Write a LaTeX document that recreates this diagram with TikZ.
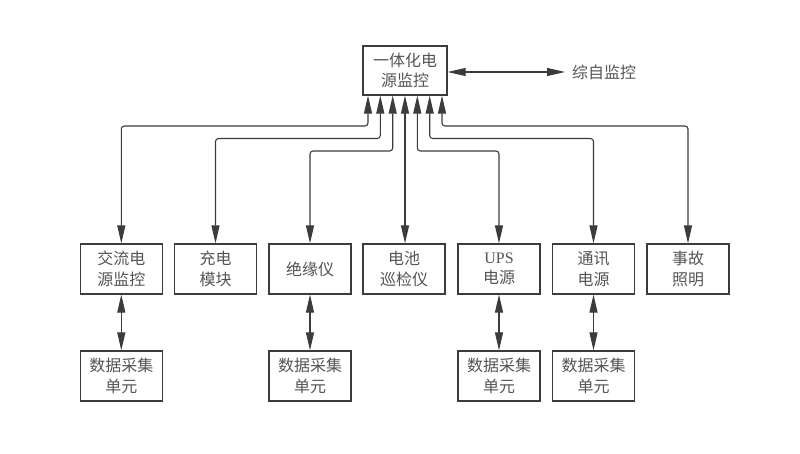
\documentclass[tikz,border=0pt]{standalone}
\usepackage{fontspec}
\setmainfont{Noto Sans CJK SC}
\newfontfamily\latserif{Liberation Serif}
\usetikzlibrary{arrows.meta}
\definecolor{linec}{HTML}{3C3C3C}
\definecolor{textc}{HTML}{555555}
\tikzset{
  blk/.style={draw=linec, line width=1.2pt, minimum width=82pt, minimum height=50pt,
    inner sep=0pt, align=center, text=textc, font=\fontsize{16}{20.5}\selectfont},
  conn/.style={draw=linec, line width=1.1pt, rounded corners=3pt,
    {Triangle[width=8pt,length=18pt]}-{Triangle[width=8pt,length=18pt]}},
}
\begin{document}
\begin{tikzpicture}[x=1pt,y=-1pt]
\useasboundingbox (0,0) rectangle (800,454);
\fill[white] (0,0) rectangle (800,454);
% top
\node[blk, minimum width=84pt, minimum height=49pt] (top) at (405,70.5) {一体化电\\源监控};
\node[text=textc, font=\fontsize{16}{20}\selectfont, anchor=west, inner sep=0pt] (zz) at (572,72) {综自监控};
\draw[conn] (top.east |- zz.west) -- ([xshift=-7pt]zz.west);
% row
\node[blk] (ac)  at (121.3,269) {交流电\\源监控};
\node[blk] (chg) at (215.5,269) {充电\\模块};
\node[blk] (ins) at (310,269) {绝缘仪};
\node[blk] (bat) at (404,269) {电池\\巡检仪};
\node[blk] (ups) at (499,269) {{\latserif UPS}\\电源};
\node[blk] (com) at (593.5,269) {通讯\\电源};
\node[blk] (emg) at (688,269) {事故\\照明};
% data units
\node[blk] (d1) at (121.3,376) {数据采集\\单元};
\node[blk] (d3) at (310,376) {数据采集\\单元};
\node[blk] (d5) at (499,376) {数据采集\\单元};
\node[blk] (d6) at (593.5,376) {数据采集\\单元};
% levels
\coordinate (L1) at (0,126);
\coordinate (L2) at (0,138.5);
\coordinate (L3) at (0,151);
\coordinate (t1) at ([xshift=-37pt]top.south);
\coordinate (t2) at ([xshift=-24.7pt]top.south);
\coordinate (t3) at ([xshift=-12.3pt]top.south);
\coordinate (t4) at (top.south);
\coordinate (t5) at ([xshift=12.3pt]top.south);
\coordinate (t6) at ([xshift=24.7pt]top.south);
\coordinate (t7) at ([xshift=37pt]top.south);
\draw[conn] (t1) -- (t1 |- L1) -| (ac.north);
\draw[conn] (t2) -- (t2 |- L2) -| (chg.north);
\draw[conn] (t3) -- (t3 |- L3) -| (ins.north);
\draw[conn] (t4) -- (t4 |- bat.north);
\draw[conn] (t5) -- (t5 |- L3) -| (ups.north);
\draw[conn] (t6) -- (t6 |- L2) -| (com.north);
\draw[conn] (t7) -- (t7 |- L1) -| (emg.north);
% data links
\draw[conn] (ac.south) -- (d1.north);
\draw[conn] (ins.south) -- (d3.north);
\draw[conn] (ups.south) -- (d5.north);
\draw[conn] (com.south) -- (d6.north);
\end{tikzpicture}
\end{document}
